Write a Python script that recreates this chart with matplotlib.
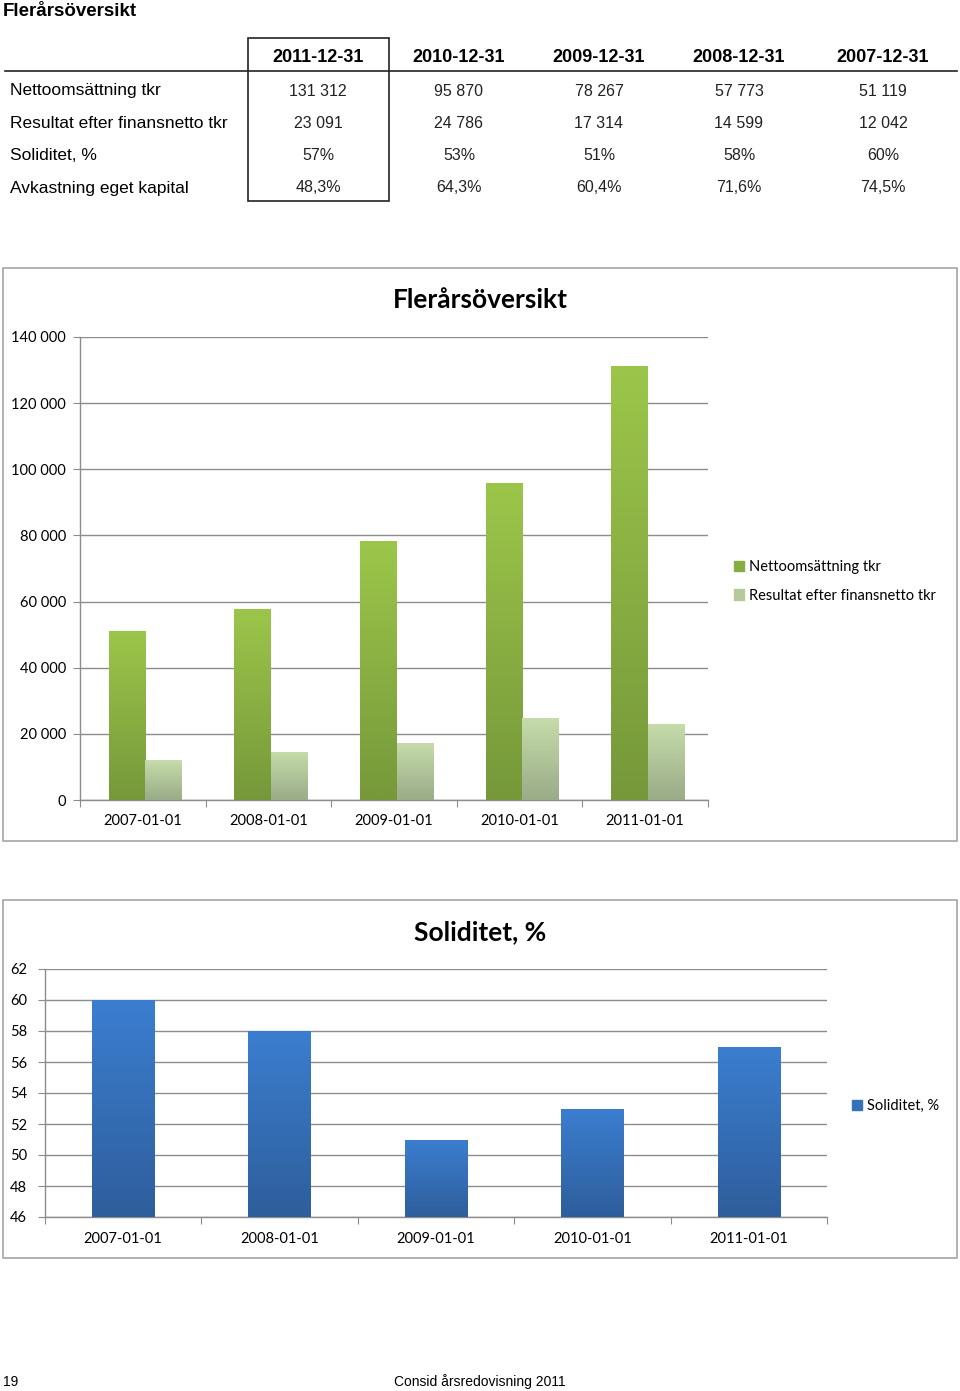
import numpy as np
import matplotlib
matplotlib.use("Agg")
import matplotlib.pyplot as plt
from matplotlib.patches import Rectangle, Patch
from matplotlib.lines import Line2D
from matplotlib.colors import LinearSegmentedColormap

# table data
tbl_cols = ["2011-12-31", "2010-12-31", "2009-12-31", "2008-12-31", "2007-12-31"]
tbl_rows = ["Nettoomsättning tkr", "Resultat efter finansnetto tkr",
            "Soliditet, %", "Avkastning eget kapital"]
tbl_vals = [
    ["131 312", "95 870", "78 267", "57 773", "51 119"],
    ["23 091", "24 786", "17 314", "14 599", "12 042"],
    ["57%", "53%", "51%", "58%", "60%"],
    ["48,3%", "64,3%", "60,4%", "71,6%", "74,5%"],
]

# chart data
years = ["2007-01-01", "2008-01-01", "2009-01-01", "2010-01-01", "2011-01-01"]
netto = [51119, 57773, 78267, 95870, 131312]
resultat = [12042, 14599, 17314, 24786, 23091]
soliditet = [60, 58, 51, 53, 57]
sol_base = 46

W, H = 960, 1391
fig = plt.figure(figsize=(W / 100, H / 100), dpi=100)
fig.patch.set_facecolor("white")

TBL_FONT = ["Liberation Sans", "DejaVu Sans"]
CH_FONT = ["Lato", "DejaVu Sans"]


def fx(x):
    return x / W


def fy(y):
    return 1 - y / H


def px_box(x0, y0, x1, y1):
    return [x0 / W, 1 - y1 / H, (x1 - x0) / W, (y1 - y0) / H]


def frame(x0, y0, x1, y1, color="#a6a6a6", lw=1.2):
    fig.patches.append(Rectangle((fx(x0), fy(y1)), fx(x1 - x0), (y1 - y0) / H,
                                 transform=fig.transFigure, fill=False,
                                 edgecolor=color, lw=lw))


def gradient_bars(ax, bars, top, bottom):
    cmap = LinearSegmentedColormap.from_list("g", [top, bottom])
    grad = np.linspace(0, 1, 256).reshape(-1, 1)
    for b in bars:
        x, y = b.get_x(), b.get_y()
        w, h = b.get_width(), b.get_height()
        im = ax.imshow(grad, extent=[x, x + w, y, y + h], origin="upper",
                       cmap=cmap, aspect="auto", zorder=3, interpolation="bilinear")
        im.set_clip_path(b)
        b.set_facecolor("none")
        b.set_edgecolor("none")


def style_axes(ax, n, ypad, xpad):
    ax.set_xlim(-0.5, n - 0.5)
    for s in ["top", "right"]:
        ax.spines[s].set_visible(False)
    for s in ["left", "bottom"]:
        ax.spines[s].set_color("#8c8c8c")
        ax.spines[s].set_linewidth(1.0)
    ax.set_xticks(np.arange(-0.5, n, 1.0))
    ax.set_xticklabels([])
    ax.set_xticks(np.arange(n), minor=True)
    ax.set_xticklabels(years, minor=True, fontsize=10.5, family=CH_FONT)
    ax.tick_params(axis="x", which="major", length=5, color="#8c8c8c", direction="out")
    ax.tick_params(axis="x", which="minor", length=0, pad=xpad)
    ax.tick_params(axis="y", length=5, color="#8c8c8c", pad=ypad, labelsize=10.5)
    for t in ax.get_yticklabels():
        t.set_family(CH_FONT)
    ax.grid(axis="y", color="#8c8c8c", lw=1.0)
    ax.set_axisbelow(True)


# ---- heading and table ----
fig.text(fx(3), fy(12), "Flerårsöversikt", fontsize=13.5, fontweight="bold",
         family=TBL_FONT, va="center", ha="left")

col_x = [318, 459, 599, 739, 883]
row_y = [91, 124, 156, 188]
for cx, c in zip(col_x, tbl_cols):
    fig.text(fx(cx), fy(57), c, fontsize=13, fontweight="bold", family=TBL_FONT,
             ha="center", va="center")
fig.add_artist(Line2D([fx(5), fx(957)], [fy(71), fy(71)], color="#222222", lw=1.2))
for ry, lab, vals in zip(row_y, tbl_rows, tbl_vals):
    fig.text(fx(10), fy(ry), lab, fontsize=12.5, family=TBL_FONT, ha="left", va="center")
    for cx, v in zip(col_x, vals):
        fig.text(fx(cx), fy(ry), v, fontsize=11.5, family=TBL_FONT, ha="center",
                 va="center", color="#222222")
frame(248, 38, 389, 201, color="#222222", lw=1.2)

# ---- chart 1 ----
frame(3, 268, 957, 841)
ax1 = fig.add_axes(px_box(80, 337, 708, 800))
x = np.arange(len(years))
bw = 0.29
b1 = ax1.bar(x - bw / 2 + 0.02, netto, bw, zorder=3)
b2 = ax1.bar(x + bw / 2 + 0.02, resultat, bw, zorder=3)
gradient_bars(ax1, b1, "#9cc64a", "#76983a")
gradient_bars(ax1, b2, "#c6dcaa", "#9aab88")
ax1.set_ylim(0, 140000)
ax1.set_yticks(range(0, 140001, 20000))
ax1.set_yticklabels([f"{v:,}".replace(",", " ") for v in range(0, 140001, 20000)])
style_axes(ax1, len(years), ypad=5, xpad=10)
fig.text(0.5, fy(300), "Flerårsöversikt", fontsize=19, fontweight="bold",
         family=CH_FONT, ha="center", va="center")
fig.legend([Patch(color="#86ad40"), Patch(color="#b5c99c")],
           ["Nettoomsättning tkr", "Resultat efter finansnetto tkr"],
           loc="upper left", bbox_to_anchor=(fx(721), fy(547)), frameon=False,
           prop={"family": CH_FONT, "size": 10.5}, handlelength=0.7,
           handleheight=0.7, handletextpad=0.35, labelspacing=1.0)

# ---- chart 2 ----
frame(3, 900, 957, 1258)
ax2 = fig.add_axes(px_box(45, 969, 827, 1217))
b3 = ax2.bar(x, [v - sol_base for v in soliditet], 0.4, bottom=sol_base, zorder=3)
gradient_bars(ax2, b3, "#3b7ed0", "#2e5e9c")
ax2.set_ylim(46, 62)
ax2.set_yticks(range(46, 63, 2))
style_axes(ax2, len(years), ypad=8, xpad=11)
fig.text(0.5, fy(932), "Soliditet, %", fontsize=19, fontweight="bold",
         family=CH_FONT, ha="center", va="center")
fig.legend([Patch(color="#3570b8")], ["Soliditet, %"],
           loc="upper left", bbox_to_anchor=(fx(839), fy(1086)), frameon=False,
           prop={"family": CH_FONT, "size": 10.5}, handlelength=0.7,
           handleheight=0.7, handletextpad=0.35)

# ---- footer ----
fig.text(fx(3), fy(1382), "19", fontsize=10, family=TBL_FONT, ha="left", va="center")
fig.text(fx(480), fy(1382), "Consid årsredovisning 2011", fontsize=10,
         family=TBL_FONT, ha="center", va="center")

fig.savefig("out.png", dpi=100)
